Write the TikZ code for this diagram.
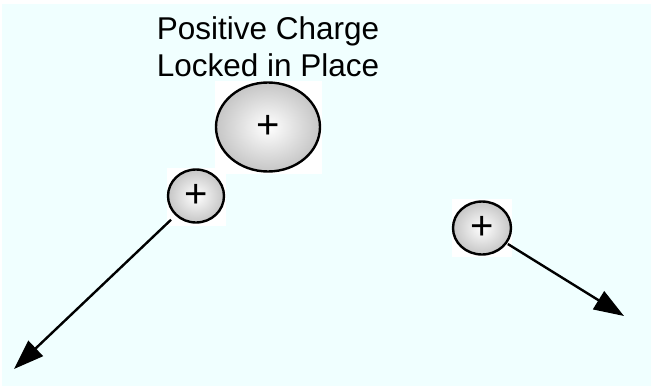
\documentclass[tikz,border=0pt]{standalone}
\usepackage{fontspec}
\setmainfont{Liberation Sans}
\usetikzlibrary{arrows.meta,shapes.geometric}
\definecolor{paleCyan}{HTML}{F0FFFF}
\begin{document}
\begin{tikzpicture}[x=1pt,y=-1pt,>={Triangle[length=30pt,width=21pt]},
  charge/.style={draw, ellipse, line width=2.4pt, inner sep=0pt,
    inner color=white, outer color=gray!45, font=\fontsize{40}{40}\selectfont},
  chargebox/.style={fill=white, inner sep=0pt},
  push/.style={->, line width=2.4pt, shorten <=6pt}]
\useasboundingbox (0,0) rectangle (651,386);
\fill[paleCyan] (2,4) rectangle (651,386);
% label above the fixed charge
\node[align=center, font=\fontsize{31.5}{37}\selectfont] (label) at (268,47) {Positive Charge\\Locked in Place};
% fixed charge
\node[chargebox, minimum width=107pt, minimum height=93pt] (fixedbox) at (268,127) {};
\node[charge, minimum width=104pt, minimum height=89pt] (fixed) at (268,127) {+};
% left moving charge
\node[chargebox, minimum width=59pt, minimum height=58pt] (leftbox) at (196,197) {};
\node[charge, minimum width=56pt, minimum height=53pt] (left) at (196,196) {+};
% right moving charge
\node[chargebox, minimum width=60pt, minimum height=58pt] (rightbox) at (482,228) {};
\node[charge, minimum width=58pt, minimum height=53pt] (right) at (482,228) {+};
% directions of motion
\coordinate (lefttip) at (14,369);
\coordinate (righttip) at (624,316);
\draw[push] (left) -- (lefttip);
\draw[push, shorten <=1pt] (right) -- (righttip);
\end{tikzpicture}
\end{document}
